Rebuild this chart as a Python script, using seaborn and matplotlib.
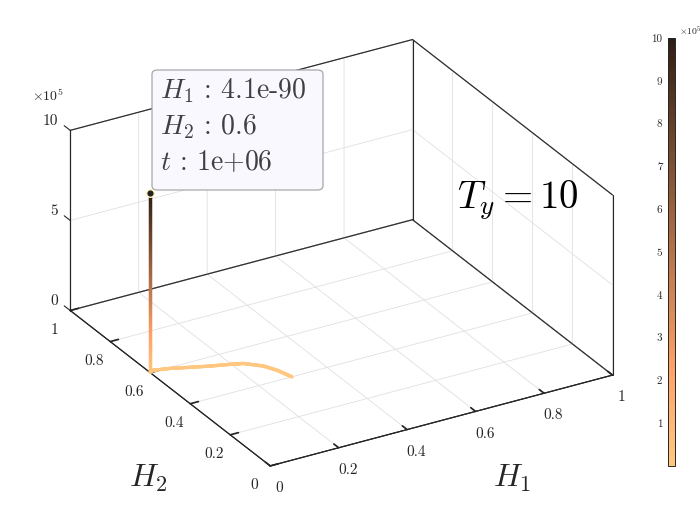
import numpy as np
import matplotlib
matplotlib.use('Agg')
import matplotlib.pyplot as plt
import seaborn as sns
from matplotlib import colors
from matplotlib.patches import FancyBboxPatch
from mpl_toolkits.mplot3d import proj3d
from mpl_toolkits.mplot3d.art3d import Line3DCollection

sns.set_theme(style='white')
plt.rcParams['font.family'] = ['cmr10']
plt.rcParams['mathtext.fontset'] = 'cm'
plt.rcParams['axes.unicode_minus'] = False

# ---------------- data ----------------
h1_values = [0.297, 0.283, 0.265, 0.228, 0.197, 0.148, 0.101, 0.054, 0.012, 0.0,
             0.0, 0.0, 0.0, 0.0, 0.0, 0.0, 0.0, 0.0, 0.0, 0.0]
h2_values = [0.399, 0.450, 0.487, 0.525, 0.537, 0.554, 0.573, 0.593, 0.605, 0.6,
             0.6, 0.6, 0.6, 0.6, 0.6, 0.6, 0.6, 0.6, 0.6, 0.6]
t_values = [0, 300, 600, 1000, 1300, 1700, 2100, 2500, 3000, 5000,
            1e5, 2e5, 3e5, 4e5, 5e5, 6e5, 7e5, 8e5, 9e5, 1e6]

h_ticks = [0, 0.2, 0.4, 0.6, 0.8, 1]
h_tick_labels = ['0', '0.2', '0.4', '0.6', '0.8', '1']
t_ticks = [0, 5e5, 1e6]
t_tick_labels = ['0', '5', '10']
cbar_ticks = [1e5, 2e5, 3e5, 4e5, 5e5, 6e5, 7e5, 8e5, 9e5, 1e6]
cbar_tick_labels = ['1', '2', '3', '4', '5', '6', '7', '8', '9', '10']

tip_lines = [r'$H_1$ : 4.1e-90', r'$H_2$ : 0.6', r'$t$ : 1e+06']
annotation = r'$T_y=10$'

W, H = 700, 525
INK = '#262626'
fig = plt.figure(figsize=(7, 5.25), dpi=100)
fig.patch.set_facecolor('white')

ax = fig.add_axes([0.1, 0.1, 0.8, 0.8], projection='3d', proj_type='ortho',
                  computed_zorder=False)
ax.set_xlim(0, 1)
ax.set_ylim(0, 1)
ax.set_zlim(0, 1e6)
ax.view_init(elev=27, azim=-120.3)
ax.set_box_aspect((1, 1, 0.51))
ax.set_facecolor((1, 1, 1, 0))

base = plt.get_cmap('copper')
cmap = colors.LinearSegmentedColormap.from_list(
    'copper_tr', base(np.linspace(1.0, 0.15, 256)))
norm = colors.Normalize(vmin=0, vmax=1e6)

# axis styling
for axis in (ax.xaxis, ax.yaxis, ax.zaxis):
    axis.pane.set_facecolor((1, 1, 1, 0))
    axis.pane.set_edgecolor(INK)
    axis.pane.set_linewidth(0.8)
    axis.line.set_color(INK)
    axis.line.set_linewidth(0.8)
    axis._axinfo['grid']['color'] = '#e0e0e0'
    axis._axinfo['grid']['linewidth'] = 0.6
    axis._axinfo['tick']['inward_factor'] = 0.0
    axis._axinfo['tick']['outward_factor'] = 0.3
    axis._axinfo['tick']['color'] = INK
    axis.label.set_visible(False)
    axis.offsetText.set_visible(False)
ax.zaxis._axinfo['tick']['outward_factor'] = 0.0
ax.grid(True)

ax.set_xticks(h_ticks)
ax.set_xticklabels(h_tick_labels, fontsize=11, color=INK)
ax.set_yticks(h_ticks)
ax.set_yticklabels(h_tick_labels, fontsize=11, color=INK)
ax.set_zticks(t_ticks)
ax.zaxis.set_tick_params(labelleft=False, labelright=False)
ax.tick_params(axis='both', pad=2)

x0, x1 = ax.get_xlim(); y0, y1 = ax.get_ylim(); z0, z1 = ax.get_zlim()
# box frame (drawn over the grid)
frame = [((x0, y0, z0), (x1, y0, z0)), ((x0, y0, z0), (x0, y1, z0)),
         ((x0, y1, z0), (x1, y1, z0)), ((x1, y0, z0), (x1, y1, z0)),
         ((x0, y1, z0), (x0, y1, z1)), ((x1, y1, z0), (x1, y1, z1)),
         ((x1, y0, z0), (x1, y0, z1)), ((x0, y1, z1), (x1, y1, z1)),
         ((x1, y1, z1), (x1, y0, z1))]
for p, q in frame:
    ax.plot([p[0], q[0]], [p[1], q[1]], [p[2], q[2]], color=INK, lw=0.8, zorder=1)

# z ticks and labels on the left vertical edge
for tz, lab in zip(t_ticks, t_tick_labels):
    ax.plot([x0, x0], [y1, y1 + 0.03], [tz, tz], color=INK, lw=0.8, zorder=1)
    ax.text(x0, y1 + 0.06, tz, lab, fontsize=11, color=INK, ha='right', va='center')

# gradient-coloured path (each segment subdivided only for smooth colouring)
segs, segc = [], []
x = np.array(h1_values); y = np.array(h2_values); z = np.array(t_values)
for i in range(len(x) - 1):
    n = 30
    fr = np.linspace(0, 1, n + 1)
    xs = x[i] + (x[i+1] - x[i]) * fr
    ys = y[i] + (y[i+1] - y[i]) * fr
    zs = z[i] + (z[i+1] - z[i]) * fr
    for k in range(n):
        segs.append([(xs[k], ys[k], zs[k]), (xs[k+1], ys[k+1], zs[k+1])])
        segc.append(0.5 * (zs[k] + zs[k+1]))
lc = Line3DCollection(segs, colors=cmap(norm(np.array(segc))), linewidths=2.4,
                      capstyle='round', zorder=2)
ax.add_collection3d(lc)
ax.scatter([x[-1]], [y[-1]], [z[-1]], s=30, c='#222222', edgecolors='#fff4c0',
           linewidths=1.0, depthshade=False, zorder=3)

# ---- fit the projected box to the layout of the reference ----
corners = [(0, 0, 0), (1, 0, 0), (0, 1, 0), (1, 1, 1e6), (1, 0, 1e6)]
targets = np.array([(270, 466), (612, 376), (70, 309), (414, 39), (612, 196)], float)
targets[:, 1] = H - targets[:, 1]

def project():
    fig.canvas.draw()
    M = ax.get_proj()
    pts = []
    for cx, cy, cz in corners:
        px, py, _ = proj3d.proj_transform(cx, cy, cz, M)
        pts.append(ax.transData.transform((px, py)))
    return np.array(pts)

for _ in range(3):
    P = project()
    pos = ax.get_position(original=True)
    c0 = np.array([(pos.x0 + pos.width / 2) * W, (pos.y0 + pos.height / 2) * H])
    d = P - c0
    A = np.zeros((2 * len(P), 3)); b = np.zeros(2 * len(P))
    for i in range(len(P)):
        A[2*i] = [d[i, 0], 1, 0]; b[2*i] = targets[i, 0]
        A[2*i+1] = [d[i, 1], 0, 1]; b[2*i+1] = targets[i, 1]
    r, cx, cy = np.linalg.lstsq(A, b, rcond=None)[0]
    nw, nh = pos.width * r, pos.height * r
    ax.set_position([cx / W - nw / 2, cy / H - nh / 2, nw, nh])

fig.canvas.draw()
# park the (empty, unused) axes title slots inside the figure, apart from each other
inv = ax.transAxes.inverted()
ax.set_title('', y=float(inv.transform((20, 12))[1]))
for tt, px in ((ax.title, 20), (ax._left_title, 40), (ax._right_title, 60)):
    axx, axy = inv.transform((px, 12))
    tt.set_position((axx, axy))
    tt.set_visible(False)
for tk in ax.zaxis.get_major_ticks():
    tk.label1.set_visible(False)
    tk.label2.set_visible(False)

# labels as figure text
def ft(xp, yp, s, **kw):
    fig.text(xp / W, 1 - yp / H, s, **kw)

ft(148, 478, r'$H_2$', fontsize=23, ha='center', va='center', color=INK)
ft(512, 478, r'$H_1$', fontsize=23, ha='center', va='center', color=INK)
ft(48, 96, r'$\times 10^5$', fontsize=10, ha='center', va='center', color=INK)

# datatip
box = FancyBboxPatch((152 / W, 1 - 190 / H), (323 - 152) / W, (190 - 70) / H,
                     boxstyle='round,pad=0,rounding_size=0.008',
                     transform=fig.transFigure, facecolor='#f9f8ff',
                     edgecolor='#a8a8a8', linewidth=0.9, zorder=20)
fig.patches.append(box)
for i, s in enumerate(tip_lines):
    ft(160, 98 + 36 * i, s, fontsize=20, ha='left', va='baseline',
       color='#404040', zorder=21)

ft(457, 208, annotation, fontsize=28, ha='left', va='baseline', color='black')

# colorbar
cax = fig.add_axes([668 / W, 1 - 466 / H, 7 / W, (466 - 38) / H])
sm = plt.cm.ScalarMappable(norm=norm, cmap=cmap)
cb = fig.colorbar(sm, cax=cax)
cb.set_ticks(cbar_ticks)
cb.set_ticklabels(cbar_tick_labels)
cax.yaxis.set_ticks_position('left')
cax.yaxis.set_label_position('left')
cax.tick_params(axis='y', labelsize=8, length=3, width=0.7, direction='in',
                pad=4, colors=INK)
cb.outline.set_edgecolor(INK)
cb.outline.set_linewidth(0.7)
ft(690, 31, r'$\times 10^5$', fontsize=7, ha='center', va='center', color=INK)

fig.savefig('out.png', dpi=100)
